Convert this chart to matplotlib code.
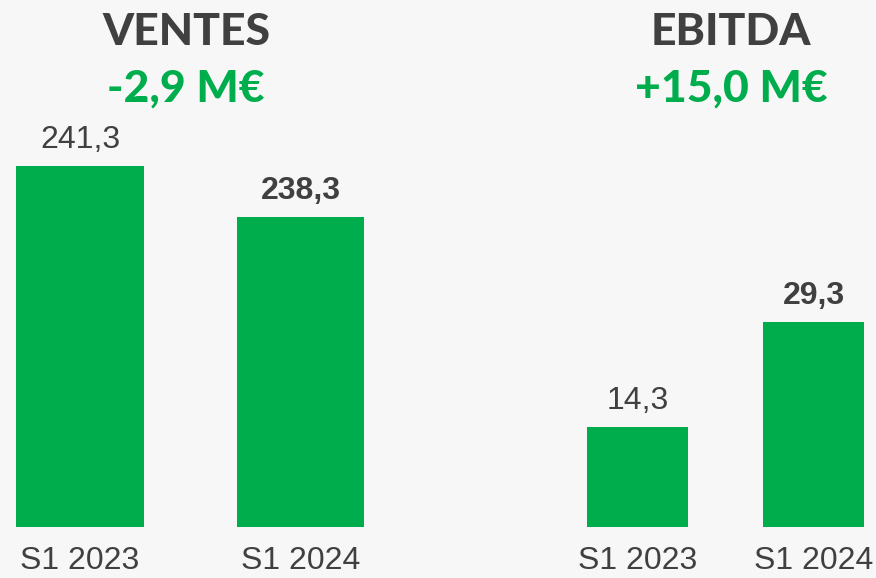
import matplotlib.pyplot as plt

# données
periodes = ['S1 2023', 'S1 2024']
ventes = [241.3, 238.3]
ebitda = [14.3, 29.3]
titres = ['VENTES', 'EBITDA']
variations = ['-2,9 M€', '+15,0 M€']

VERT = '#00ad4d'
GRIS = '#404040'
FOND = '#f7f7f7'

W, H = 876, 578
fig = plt.figure(figsize=(W / 100, H / 100), dpi=100, facecolor=FOND)


def px(x0, y0, x1, y1):
    # rectangle en pixels (origine en haut a gauche) -> coordonnees figure
    return [x0 / W, 1 - y1 / H, (x1 - x0) / W, (y1 - y0) / H]


def panneau(rect, valeurs, xlim, ylim, largeur):
    ax = fig.add_axes(rect)
    ax.set_facecolor(FOND)
    x = range(len(valeurs))
    ax.bar(x, valeurs, width=largeur, color=VERT, bottom=0)
    ax.set_xlim(*xlim)
    ax.set_ylim(*ylim)
    for s in ax.spines.values():
        s.set_visible(False)
    ax.set_yticks([])
    ax.set_xticks(list(x))
    ax.set_xticklabels(periodes, fontsize=23, color=GRIS, family='Liberation Sans')
    ax.tick_params(axis='x', length=0, pad=14)
    for i, v in enumerate(valeurs):
        lbl = f'{v:.1f}'.replace('.', ',')
        ax.annotate(lbl, (i, v), xytext=(0, 13), textcoords='offset points',
                    ha='center', va='baseline', fontsize=23, color=GRIS,
                    family='Liberation Sans',
                    fontweight='bold' if i == 1 else 'normal')
    return ax


# ventes : axe tronque a partir de ~220
panneau(px(0, 0, 438, 527), ventes, (-80 / 220.5, 358 / 220.5), (220.06, 220.06 + 527 / 17.0), 0.576)
# ebitda
panneau(px(438, 0, 876, 527), ebitda, (-199.5 / 176, 238.5 / 176), (0, 527 / 7.0), 0.574)

centres = [186, 731]
for cx, t, v in zip(centres, titres, variations):
    fig.text(cx / W, 1 - 45 / H, t, ha='center', va='baseline', fontsize=32,
             fontweight=900, color=GRIS, family=['Lato', 'DejaVu Sans'])
    fig.text(cx / W, 1 - 102 / H, v, ha='center', va='baseline', fontsize=32,
             fontweight=900, color=VERT, family=['Lato', 'DejaVu Sans'])

fig.savefig('out.png', dpi=100, facecolor=FOND)
